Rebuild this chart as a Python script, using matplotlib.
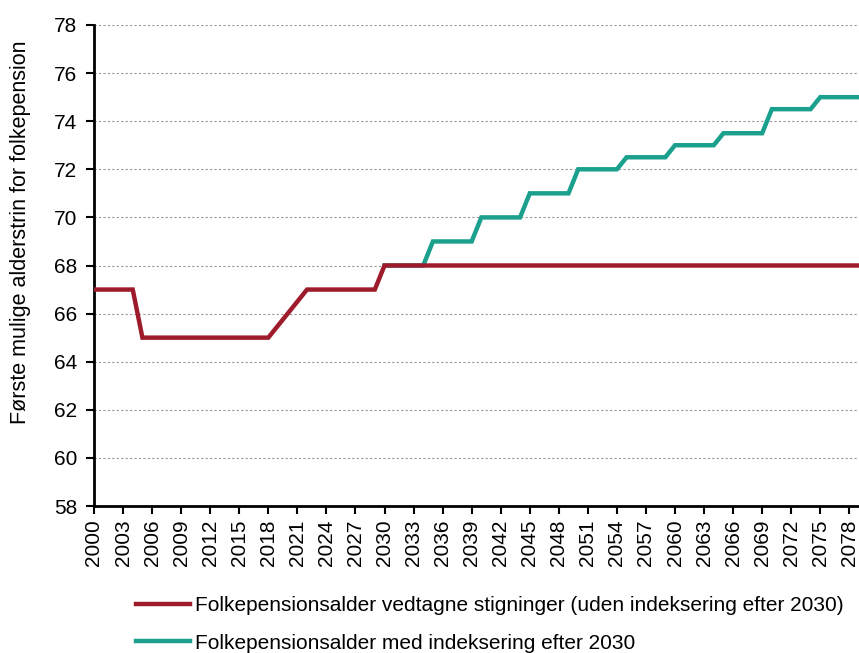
import matplotlib.pyplot as plt

plt.rcParams['font.family'] = ['Liberation Sans', 'DejaVu Sans']

years = list(range(2000, 2080))

# vedtagne stigninger (uden indeksering efter 2030)
vedtagne = ([67] * 5 + [65] * 14 + [65.5, 66, 66.5] + [67] * 8 + [68] * 50)

# med indeksering efter 2030 (starter 2030)
index_years = list(range(2030, 2080))
indeksering = ([68] * 5 + [69] * 5 + [70] * 5 + [71] * 5 + [72] * 5 +
               [72.5] * 5 + [73] * 5 + [73.5] * 5 + [74.5] * 5 + [75] * 5)

label_red = "Folkepensionsalder vedtagne stigninger (uden indeksering efter 2030)"
label_green = "Folkepensionsalder med indeksering efter 2030"

red = '#9E1B2C'
green = '#1BA08E'

fig = plt.figure(figsize=(8.59, 6.53), dpi=100)
ax = fig.add_axes([94 / 859, 1 - 506 / 653, 765 / 859, (506 - 25) / 653])

l1, = ax.plot(years, vedtagne, color=red, lw=3.2, zorder=3, solid_joinstyle='miter')
l2, = ax.plot(index_years, indeksering, color=green, lw=3.2, zorder=2, solid_joinstyle='miter')

ax.set_xlim(2000, 2079)
ax.set_ylim(58, 78)
ax.set_yticks(range(58, 80, 2))
ax.set_xticks(range(2000, 2079, 3))
ax.set_xticklabels([str(y) for y in range(2000, 2079, 3)], rotation=90)
ax.tick_params(labelsize=15, width=1.5, length=6, direction='out')
ax.tick_params(axis='y', pad=6)
ax.grid(axis='y', color='#999999', linestyle=(0, (2, 2)), linewidth=0.8)
ax.set_axisbelow(True)

for s in ['top', 'right']:
    ax.spines[s].set_visible(False)
for s in ['left', 'bottom']:
    ax.spines[s].set_linewidth(2)

ax.set_ylabel('Første mulige alderstrin for folkepension', fontsize=15.5)
ax.yaxis.set_label_coords(-0.082, 0.57)

fig.legend([l1, l2], [label_red, label_green], loc='upper left',
           bbox_to_anchor=(136 / 859, 1 - 596 / 653), frameon=False,
           fontsize=15, handlelength=2.6, labelspacing=0.9, handletextpad=0.25,
           borderaxespad=0, borderpad=0)

fig.savefig('out.png', dpi=100)
